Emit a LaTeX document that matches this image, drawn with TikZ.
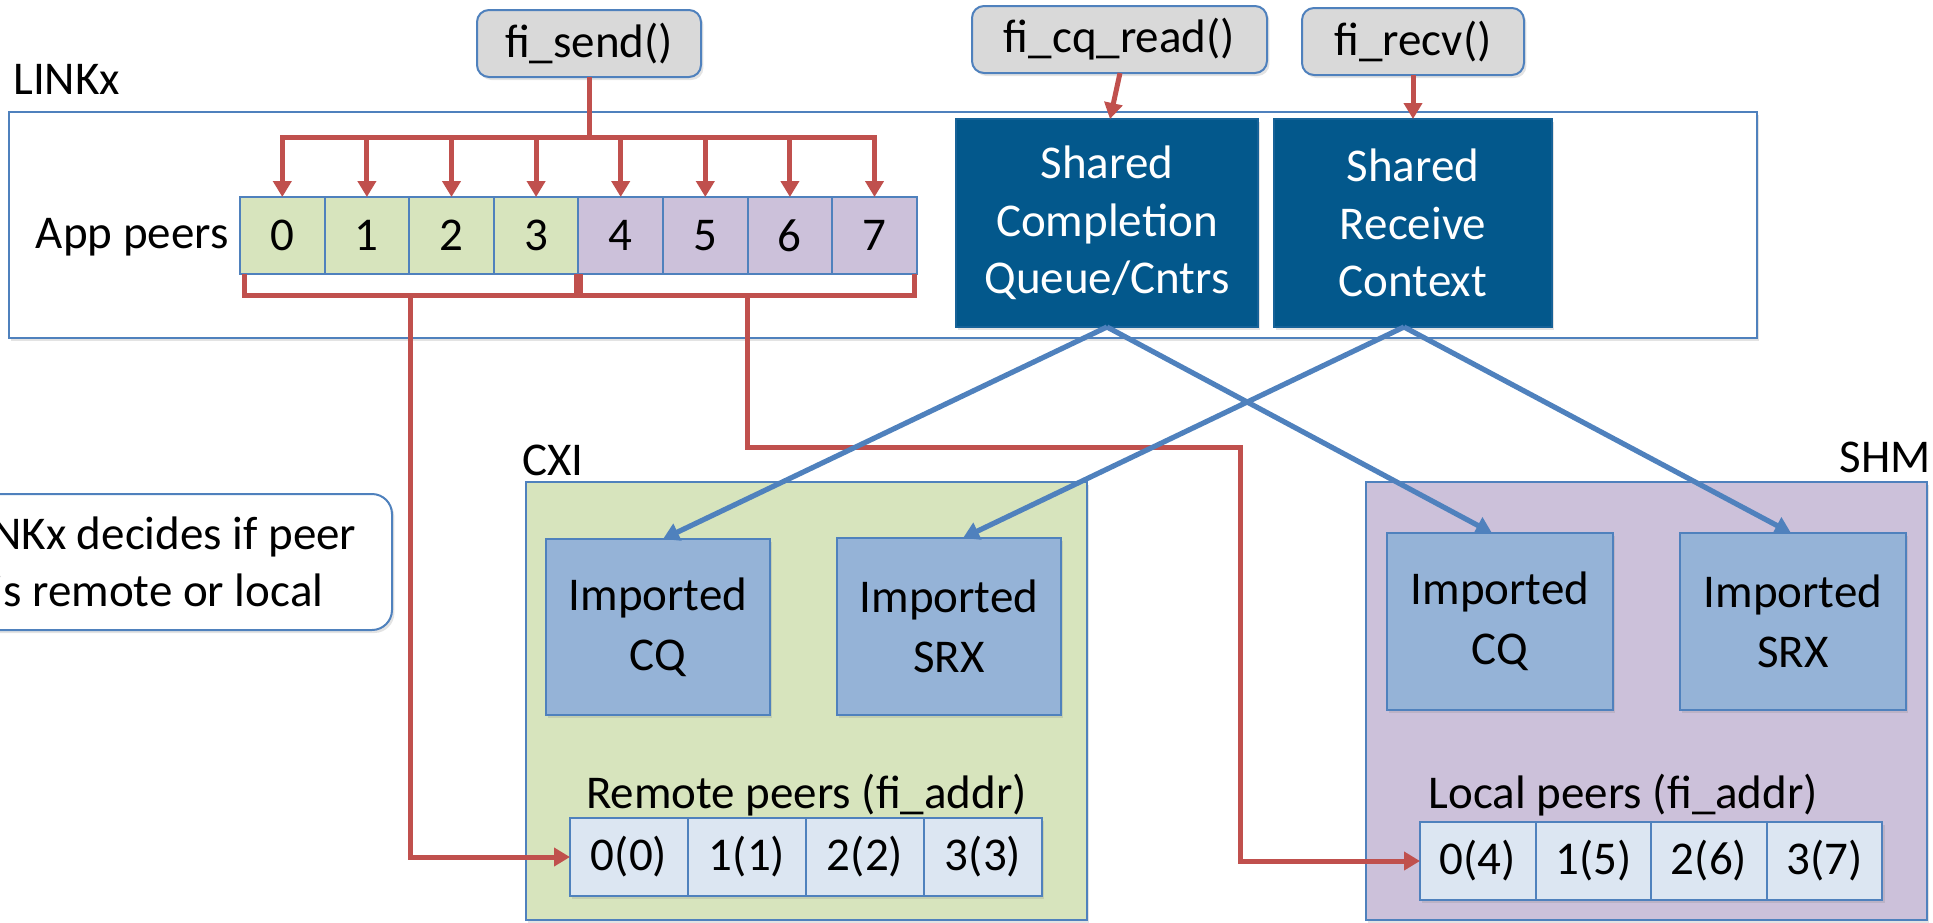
\documentclass[tikz,border=0pt]{standalone}
\usepackage{fontspec}
\setmainfont{Carlito}
\usetikzlibrary{arrows.meta,shadows,calc}

\definecolor{edgeblue}{HTML}{4F81BD}
\definecolor{wirered}{HTML}{C0504D}
\definecolor{apigray}{HTML}{D9D9D9}
\definecolor{shareddark}{HTML}{03588C}
\definecolor{cxigreen}{HTML}{D7E4BD}
\definecolor{shmpurple}{HTML}{CCC1DA}
\definecolor{importblue}{HTML}{95B3D7}
\definecolor{addrblue}{HTML}{DCE6F2}

\tikzset{
  px/.style 2 args={minimum width=#1*0.5pt, minimum height=#2*0.5pt},
  base/.style={draw=edgeblue, line width=1pt, inner sep=0pt, outer sep=0pt, align=center},
  soft/.style={drop shadow={opacity=0.22, shadow xshift=1.2pt, shadow yshift=-1.5pt}},
  apibox/.style={base, fill=apigray, rounded corners=6pt, soft},
  region/.style={base, soft},
  sharedbox/.style={base, draw=shareddark!75!edgeblue, fill=shareddark, text=white, soft},
  importbox/.style={base, fill=importblue, soft, font=\fontsize{23.5}{30}\selectfont},
  peercell/.style={base, px={84.6}{77}},
  addrcell/.style={base, fill=addrblue, soft},
  label/.style={inner sep=0pt},
  redwire/.style={draw=wirered, line width=2.5pt},
  redarrow/.style={redwire, -{Triangle[width=9pt,length=8pt]}},
  bluearrow/.style={draw=edgeblue, line width=2.6pt, -{Triangle[width=9pt,length=8pt]}},
}

\begin{document}
\begin{tikzpicture}[x=0.5pt, y=-0.5pt,
  every node/.style={font=\fontsize{23.5}{28.75}\selectfont}]
\useasboundingbox (0,0) rectangle (1933,922);

% provider regions
\node[region, fill=white, px={1748}{226}] (linkx) at (883,225) {};
\node[region, fill=cxigreen, px={561}{438}] (cxi) at (806.5,701) {};
\node[region, fill=shmpurple, px={561}{438}] (shm) at (1646.5,701) {};

\node[label, anchor=base west] (linkxlbl) at (13,94) {LINKx};
\node[label, anchor=base west] (cxilbl) at (522,475) {CXI};
\node[label, anchor=base east] (shmlbl) at (1931,472) {SHM};

% API calls
\node[apibox, px={224}{67}] (fisend) at (589,43.5) {fi\_send()};
\node[apibox, px={295}{67}] (ficq) at (1119.5,39.5) {fi\_cq\_read()};
\node[apibox, px={222}{67}] (firecv) at (1413,41.5) {fi\_recv()};

% shared objects owned by LINKx
\node[sharedbox, px={302}{208}] (scq) at (1107,223) {Shared\\Completion\\Queue/Cntrs};
\node[sharedbox, px={278}{208}] (srx) at (1413,223) {Shared\\Receive\\Context};

% application peer table
\node[label, anchor=base east] (applbl) at (229,248) {App peers};
\foreach \i/\col in {0/cxigreen,1/cxigreen,2/cxigreen,3/cxigreen,
                     4/shmpurple,5/shmpurple,6/shmpurple,7/shmpurple}
  \node[peercell, fill=\col] (p\i) at ({282.3+84.6*\i},235.5) {\i};

% imported objects
\node[importbox, px={224}{176}] (cxicq) at (658,627) {Imported\\CQ};
\node[importbox, px={224}{177}] (cxisrx) at (949,626.5) {Imported\\SRX};
\node[importbox, px={226}{177}] (shmcq) at (1500,621.5) {Imported\\CQ};
\node[importbox, px={226}{177}] (shmsrx) at (1793,621.5) {Imported\\SRX};

% provider address tables
\node[label, anchor=base] (remlbl) at (806.5,808) {Remote peers (fi\_addr)};
\foreach \i in {0,...,3}
  \node[addrcell, px={118}{78}] (r\i) at ({629+118*\i},857) {\i(\i)};
\node[label, anchor=base] (loclbl) at (1623.5,808) {Local peers (fi\_addr)};
\foreach \i/\j in {0/4,1/5,2/6,3/7}
  \node[addrcell, px={115.6}{78}] (l\i) at ({1477.8+115.6*\i},861) {\i(\j)};

% note
\node[base, fill=white, rounded corners=10pt, soft, px={468}{136},
      font=\fontsize{23.5}{28.5}\selectfont] (note) at (158,562)
      {LINKx decides if peer\\is remote or local};

% fi_send fan-out
\coordinate (bus) at (589,137);
\draw[redwire] (fisend.south) -- (bus);
\foreach \i in {0,...,7}
  \draw[redarrow] (bus) -| (p\i.north);

% peer groups routed to providers
\draw[redwire] ([xshift=2pt]p0.south west) -- ++(0,21) -| ([xshift=-1pt]p3.south east);
\draw[redwire] ([xshift=1pt]p4.south west) -- ++(0,21) -| ([xshift=-1pt]p7.south east);
\coordinate (lmid) at (410,295);
\coordinate (rmid) at (747.6,295);
\coordinate (jog) at (1240,447);
\draw[redarrow] (lmid) |- (r0.west);
\draw[redarrow] (rmid) |- (jog) |- (l0.west);

% completion and receive calls
\draw[redarrow] ([xshift=0.25pt]ficq.south) -- ([xshift=1.5pt]scq.north);
\draw[redarrow] (firecv.south) -- (srx.north);

% imports into the core providers
\draw[bluearrow] (scq.south) -- ([xshift=2.5pt]cxicq.north);
\draw[bluearrow] (scq.south) -- ([xshift=-4pt]shmcq.north);
\draw[bluearrow] ([xshift=-4.5pt]srx.south) -- ([xshift=7pt]cxisrx.north);
\draw[bluearrow] ([xshift=-4.5pt]srx.south) -- ([xshift=-1pt]shmsrx.north);
\end{tikzpicture}
\end{document}
